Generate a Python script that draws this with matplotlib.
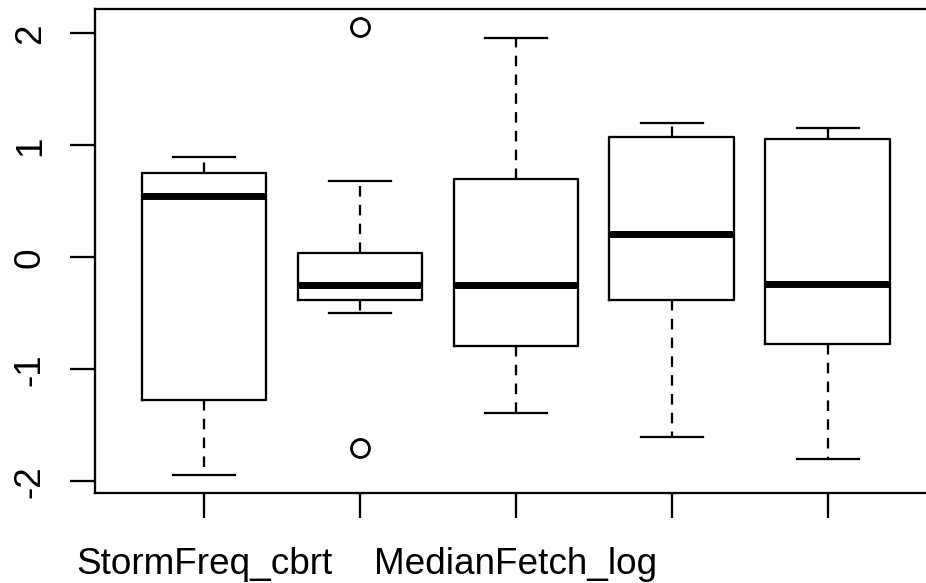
import matplotlib

matplotlib.use("Agg")
import matplotlib.pyplot as plt

# five-number summaries
positions = [1, 2, 3, 4, 5]
whisker_low = [-1.94, -0.50, -1.385, -1.60, -1.80]
q1 = [-1.27, -0.38, -0.79, -0.38, -0.774]
medians = [0.55, -0.25, -0.25, 0.21, -0.24]
q3 = [0.75, 0.043, 0.70, 1.078, 1.054]
whisker_high = [0.90, 0.68, 1.955, 1.197, 1.158]
outliers = [[], [2.06, -1.70], [], [], []]

x_labels = ["StormFreq_cbrt", "", "MedianFetch_log", "", ""]
y_ticks = [-2, -1, 0, 1, 2]
y_labels = ["-2", "-1", "0", "1", "2"]

plt.rcParams["font.family"] = ["Liberation Sans", "DejaVu Sans"]

W, H = 926, 583
fig = plt.figure(figsize=(W / 100, H / 100), dpi=100)
left, right, top, bottom = 95, 936.8, 8.7, 492.7
ax = fig.add_axes([left / W, 1 - bottom / H, (right - left) / W, (bottom - top) / H])

stats = [
    {"whislo": lo, "q1": a, "med": m, "q3": b, "whishi": hi, "fliers": fl}
    for lo, a, m, b, hi, fl in zip(whisker_low, q1, medians, q3, whisker_high, outliers)
]

lw = 1.65
ax.bxp(
    stats,
    positions=positions,
    widths=0.8,
    showfliers=True,
    boxprops=dict(color="black", linewidth=lw),
    medianprops=dict(color="black", linewidth=5.0, solid_capstyle="butt"),
    whiskerprops=dict(color="black", linewidth=lw, linestyle=(0, (4.6, 3.6))),
    capprops=dict(color="black", linewidth=lw),
    capwidths=0.4,
    flierprops=dict(marker="o", markersize=13, markerfacecolor="none",
                    markeredgecolor="black", markeredgewidth=2.0),
)

ax.set_xlim(0.3, 5.7)
ax.set_ylim(-2.10, 2.22)

ax.set_xticks(positions)
ax.set_xticklabels(x_labels, fontsize=26.6)
ax.set_yticks(y_ticks)
ax.set_yticklabels(y_labels, fontsize=26.6, rotation=90, va="center")

ax.tick_params(axis="both", length=18, width=lw, color="black")
ax.tick_params(axis="x", pad=21)
ax.tick_params(axis="y", pad=16)
for side in ["left", "bottom", "top", "right"]:
    ax.spines[side].set_linewidth(lw)
    ax.spines[side].set_color("black")

fig.savefig("out.png", dpi=100)
